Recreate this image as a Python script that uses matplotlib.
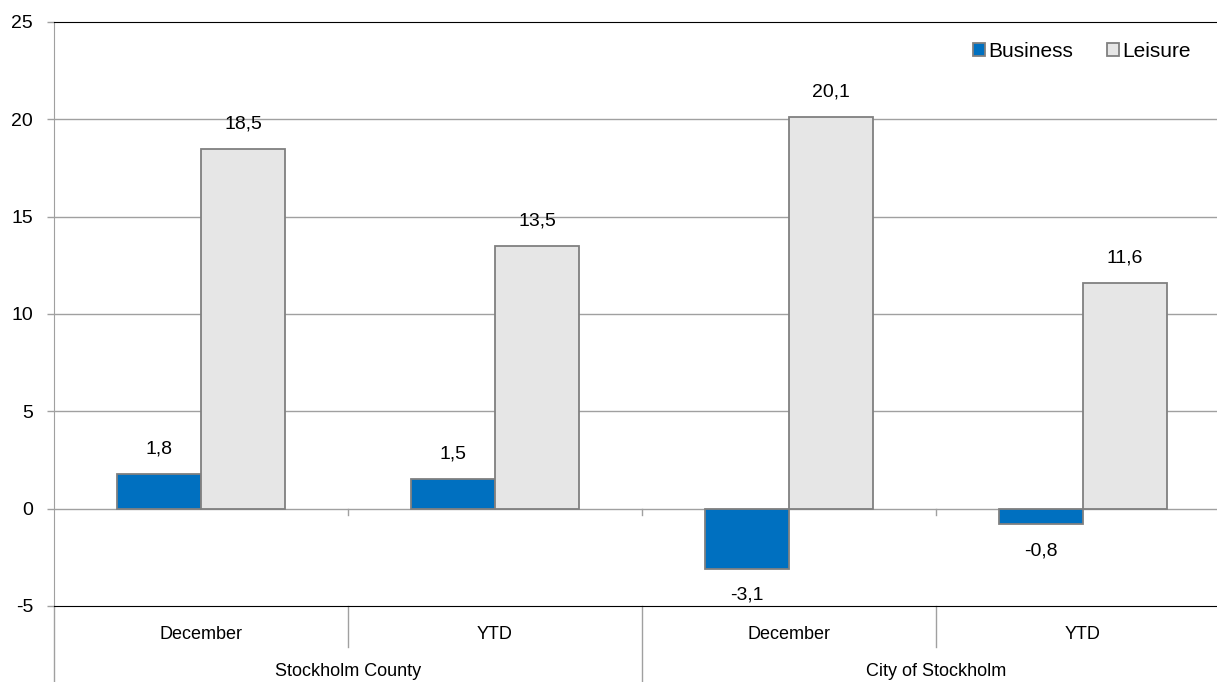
import matplotlib
matplotlib.use("Agg")
import matplotlib.pyplot as plt
import matplotlib.transforms as mtransforms
from matplotlib.patches import Patch
import numpy as np

plt.rcParams['font.family'] = ['Liberation Sans', 'DejaVu Sans']
plt.rcParams['axes.unicode_minus'] = False

periods = ["December", "YTD", "December", "YTD"]
groups = ["Stockholm County", "City of Stockholm"]
business = [1.8, 1.5, -3.1, -0.8]
leisure = [18.5, 13.5, 20.1, 11.6]
series_names = ["Business", "Leisure"]

blue = "#0070C0"
light = "#E6E6E6"
edge = "#808080"
grid = "#A0A0A0"

fig = plt.figure(figsize=(12.17, 6.82), dpi=100)
# plot area runs a bit past the right edge of the picture
ax = fig.add_axes([54/1217, 1-606/682, 1176/1217, 584/682])

x = np.arange(len(periods))
w = 0.286
b1 = ax.bar(x - w/2, business, w, color=blue, edgecolor=edge, linewidth=1.3, zorder=3)
b2 = ax.bar(x + w/2, leisure, w, color=light, edgecolor=edge, linewidth=1.3, zorder=3)

# value labels with decimal comma
for rects, vals in ((b1, business), (b2, leisure)):
    for r, v in zip(rects, vals):
        off = 18 if v >= 0 else -19
        ax.annotate(f"{v:.1f}".replace(".", ","), (r.get_x() + r.get_width()/2, v),
                    xytext=(0, off), textcoords="offset points",
                    ha="center", va="center", fontsize=14)

ax.set_xlim(-0.5, len(periods) - 0.5)
ax.set_ylim(-5, 25)
ax.set_yticks(np.arange(-5, 26, 5))
ax.set_xticks([])
ax.tick_params(axis="y", length=5, width=1, color=grid, pad=10, labelsize=14)

for yv in range(0, 25, 5):
    ax.axhline(yv, color=grid, lw=1, zorder=1)

ax.spines["right"].set_visible(False)
ax.spines["left"].set_color(grid)
ax.spines["top"].set_color("black")
ax.spines["bottom"].set_color("black")

# category axis below the plot
trans = mtransforms.blended_transform_factory(ax.transData, ax.transAxes)
for i, p in enumerate(periods):
    ax.text(i, -0.048, p, transform=trans, ha="center", va="center", fontsize=13)
for g, name in enumerate(groups):
    ax.text(2*g + 0.5, -0.113, name, transform=trans, ha="center", va="center", fontsize=13)

for xb in [0.5, 2.5]:
    ax.plot([xb, xb], [0, -0.070], transform=trans, color=grid, lw=1, clip_on=False)
for xb in [-0.5, 1.5]:
    ax.plot([xb, xb], [0, -0.135], transform=trans, color=grid, lw=1, clip_on=False)

# little ticks on the zero line
for xb in [0.5, 1.5, 2.5]:
    ax.plot([xb, xb], [0, -0.3], color=grid, lw=1, zorder=2)

handles = [Patch(facecolor=blue, edgecolor=edge, linewidth=1.3),
           Patch(facecolor=light, edgecolor=edge, linewidth=1.3)]
fig.legend(handles, series_names, loc="center right", bbox_to_anchor=(0.994, 0.925),
           ncol=2, frameon=False, fontsize=15, handlelength=0.6, handleheight=0.6,
           handletextpad=0.15, columnspacing=1.6)

fig.savefig("out.png", dpi=100)
